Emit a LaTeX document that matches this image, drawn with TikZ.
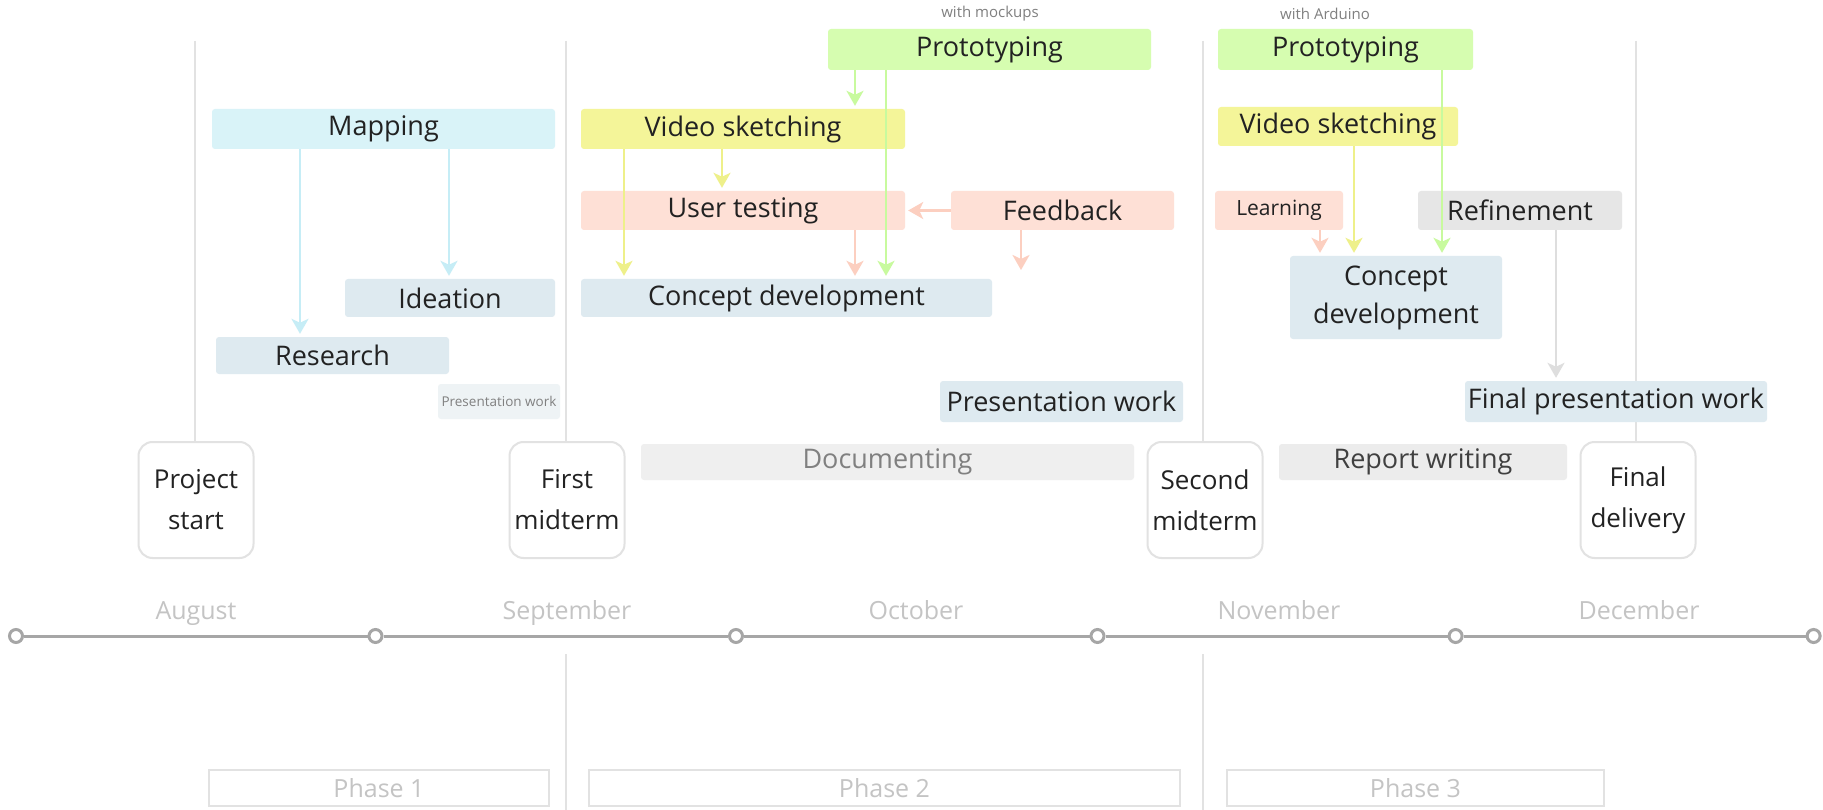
\documentclass[tikz,border=0pt]{standalone}
\usepackage{fontspec}
\setmainfont{Open Sans}
\usetikzlibrary{arrows.meta}
\definecolor{cyanF}{HTML}{D9F3F8}
\definecolor{cyanA}{HTML}{C6EDF6}
\definecolor{blueF}{HTML}{DEEAF0}
\definecolor{paleF}{HTML}{EEF3F5}
\definecolor{greenF}{HTML}{D6FDB0}
\definecolor{greenA}{HTML}{C8FA9E}
\definecolor{yellowF}{HTML}{F4F599}
\definecolor{yellowA}{HTML}{EEF08A}
\definecolor{salmonF}{HTML}{FEE0D6}
\definecolor{salmonA}{HTML}{FCCFC0}
\definecolor{grayA}{HTML}{EFEFEF}
\definecolor{grayB}{HTML}{E6E6E6}
\definecolor{grayC}{HTML}{ECECEC}
\definecolor{grayArr}{HTML}{DEDEDE}
\definecolor{vline}{HTML}{E2E2E2}
\definecolor{axisC}{HTML}{A6A6A6}
\definecolor{labelC}{HTML}{C4C4C4}
\definecolor{txt}{HTML}{222222}
\tikzset{
  task/.style={rectangle, rounded corners=3pt, inner sep=0pt, text=txt,
    font=\fontsize{27}{38}\selectfont, align=center},
  milestone/.style={rectangle, rounded corners=14pt, draw=vline, line width=2pt,
    fill=white, minimum width=115pt, minimum height=116pt, inner sep=0pt,
    text=txt, font=\fontsize{26}{41}\selectfont, align=center},
  phasebox/.style={rectangle, draw=vline, line width=2pt, fill=white,
    minimum height=36pt, inner sep=0pt, text=labelC, font=\fontsize{25}{30}\selectfont},
  month/.style={text=labelC, font=\fontsize{25}{30}\selectfont, inner sep=0pt, anchor=base},
  tick/.style={circle, draw=axisC, line width=3pt, fill=white, minimum size=13pt, inner sep=0pt},
  arr/.style={line width=2.5pt, -{Stealth[length=15pt,width=17pt,inset=4pt]}, shorten >=3pt},
  smalllbl/.style={text=gray, font=\fontsize{15}{17}\selectfont, inner sep=0pt},
  sepline/.style={vline, line width=2pt}
}
\begin{document}
\begin{tikzpicture}[x=1pt,y=-1pt]
\useasboundingbox[fill=white] (0,0) rectangle (1823,810);

% separators (top part)
\coordinate (s1t) at (195,41);
\coordinate (s2t) at (566,41);
\coordinate (s3t) at (1203,41);
\coordinate (s4t) at (1636,41);
\coordinate (s2b) at (566,810);
\coordinate (s3b) at (1203,810);

% milestones
\node[milestone] (ms1) at (196,500) {Project\\start};
\node[milestone] (ms2) at (567,500) {First\\midterm};
\node[milestone] (ms3) at (1205,500) {Second\\midterm};
\node[milestone] (ms4) at (1638,500) {Final\\delivery};

\draw[sepline] (s1t) -- (s1t |- ms1.north);
\draw[sepline] (s2t) -- (s2t |- ms2.north);
\draw[sepline] (s3t) -- (s3t |- ms3.north);
\draw[sepline] (s4t) -- (s4t |- ms4.north);

% axis
\node[tick] (t0) at (16,636) {};
\node[tick] (t1) at (375.5,636) {};
\node[tick] (t2) at (736,636) {};
\node[tick] (t3) at (1097.5,636) {};
\node[tick] (t4) at (1455.6,636) {};
\node[tick] (t5) at (1813.6,636) {};
\draw[axisC, line width=3pt] (t0) -- (t1) (t1) -- (t2) (t2) -- (t3) (t3) -- (t4) (t4) -- (t5);

\draw[sepline] (s2b |- t0.south) ++(0,10) -- (s2b);
\draw[sepline] (s3b |- t0.south) ++(0,10) -- (s3b);

% months
\node[month] (m1) at (196,619) {August};
\node[month] (m2) at (567,619) {September};
\node[month] (m3) at (916,619) {October};
\node[month] (m4) at (1279,619) {November};
\node[month] (m5) at (1639,619) {December};

% phases
\node[phasebox, minimum width=340pt] (p1) at (379,788) {Phase 1};
\node[phasebox, minimum width=591pt] (p2) at (884.5,788) {Phase 2};
\node[phasebox, minimum width=377pt] (p3) at (1415.5,788) {Phase 3};

% phase 1 tasks
\node[task, fill=cyanF, minimum width=343pt, minimum height=40pt] (map) at (383.5,129) {Mapping};
\node[task, fill=blueF, minimum width=210pt, minimum height=38pt] (idea) at (450,298) {Ideation};
\node[task, fill=blueF, minimum width=233pt, minimum height=37pt] (res) at (332.5,355.5) {Research};
\node[task, fill=paleF, minimum width=122pt, minimum height=35pt, text=gray,
      font=\fontsize{13.5}{15}\selectfont] (spres) at (499,401.5) {Presentation work};

% phase 2 tasks
\node[smalllbl] (w1) at (990,14) {with mockups};
\node[task, fill=greenF, minimum width=323pt, minimum height=41pt] (pro1) at (989.5,49.5) {Prototyping};
\node[task, fill=yellowF, minimum width=324pt, minimum height=40pt] (vid1) at (743,129) {Video sketching};
\node[task, fill=salmonF, minimum width=324pt, minimum height=39pt] (user) at (743,210.5) {User testing};
\node[task, fill=salmonF, minimum width=223pt, minimum height=39pt] (feed) at (1062.5,210.5) {Feedback};
\node[task, fill=blueF, minimum width=411pt, minimum height=38pt] (con1) at (786.5,298) {Concept development};
\node[task, fill=blueF, minimum width=243pt, minimum height=41pt] (pres) at (1061.5,401.5) {Presentation work};
\node[task, fill=grayA, minimum width=493pt, minimum height=36pt, text=gray] (doc) at (887.5,462) {Documenting};

% phase 3 tasks
\node[smalllbl] (w2) at (1325,14) {with Arduino};
\node[task, fill=greenF, minimum width=255pt, minimum height=41pt] (pro2) at (1345.5,49.5) {Prototyping};
\node[task, fill=yellowF, minimum width=240pt, minimum height=39pt] (vid2) at (1338,126.5) {Video sketching};
\node[task, fill=salmonF, minimum width=128pt, minimum height=39pt,
      font=\fontsize{21}{24}\selectfont] (learn) at (1279,210.5) {Learning};
\node[task, fill=grayB, minimum width=204pt, minimum height=39pt] (refine) at (1520,210.5) {Refinement};
\node[task, fill=blueF, minimum width=212pt, minimum height=83pt] (con2) at (1396,297.5) {Concept\\development};
\node[task, fill=blueF, minimum width=302pt, minimum height=41pt] (fpres) at (1616,401.5) {Final presentation work};
\node[task, fill=grayC, minimum width=288pt, minimum height=36pt, text=black!75] (rep) at (1423,462) {Report writing};

% arrow columns
\coordinate (cA) at (300,0);
\coordinate (cB) at (449,0);
\coordinate (cC) at (855,0);
\coordinate (cD) at (886,0);
\coordinate (cE) at (722,0);
\coordinate (cF) at (624,0);
\coordinate (cG) at (1021,0);
\coordinate (cH) at (1320,0);
\coordinate (cI) at (1354,0);
\coordinate (cJ) at (1442,0);
\coordinate (cK) at (1556,0);
\coordinate (feedEnd) at (1021,273);

% arrows
\draw[arr, cyanA] (map.south -| cA) -- (res.north -| cA);
\draw[arr, cyanA] (map.south -| cB) -- (idea.north -| cB);
\draw[arr, greenA] (pro1.south -| cC) -- (vid1.north -| cC);
\draw[arr, greenA] (pro1.south -| cD) -- (con1.north -| cD);
\draw[arr, yellowA] (vid1.south -| cE) -- (user.north -| cE);
\draw[arr, yellowA] (vid1.south -| cF) -- (con1.north -| cF);
\draw[arr, salmonA] (user.south -| cC) -- (con1.north -| cC);
\draw[arr, salmonA] (feed.west) -- (user.east);
\draw[arr, salmonA] (feed.south -| cG) -- (feedEnd);
\draw[arr, salmonA] (learn.south -| cH) -- (con2.north -| cH);
\draw[arr, yellowA] (vid2.south -| cI) -- (con2.north -| cI);
\draw[arr, greenA] (pro2.south -| cJ) -- (con2.north -| cJ);
\draw[arr, grayArr] (refine.south -| cK) -- (fpres.north -| cK);
\end{tikzpicture}
\end{document}
